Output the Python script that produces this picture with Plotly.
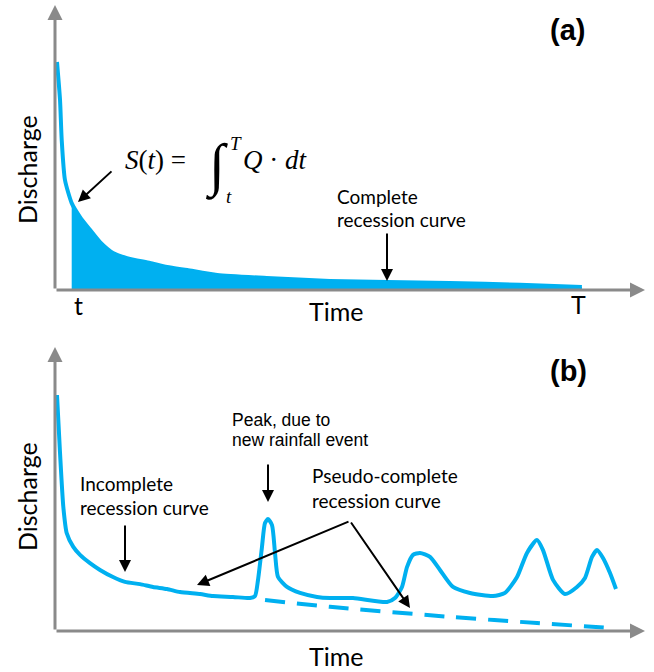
import plotly.graph_objects as go

# ---------------- data ----------------
# Panel (a): complete recession curve (time 0-100, discharge 0-100, arbitrary units)
time_a = [0.34, 0.85, 1.14, 1.69, 2.83, 4.24, 5.93, 7.63, 9.83, 12.2, 16.1, 19.0,
          22.4, 27.5, 35.9, 46.6, 56.3, 66.9, 78.8, 89.3]
discharge_a = [80.0, 66.7, 52.6, 38.6, 30.5, 25.6, 21.1, 16.8, 13.0, 11.2, 9.5, 8.1,
               7.0, 5.3, 4.2, 3.2, 2.8, 2.5, 1.8, 1.05]
storage_start_index = 4          # the point "t" from which S(t) is integrated

# Panel (b): observed hydrograph with new rainfall events
time_b = [0.34, 0.85, 1.41, 1.98, 3.10, 4.24, 5.93, 7.63, 9.83, 11.86, 14.41, 16.61,
          18.98, 21.19, 24.58, 26.78, 30.17, 33.05, 33.90, 34.41, 35.08, 35.59, 36.10,
          36.78, 37.29, 37.80, 39.32, 41.53, 44.41, 46.61, 50.51, 56.27, 57.63, 58.81,
          59.66, 60.68, 61.86, 63.56, 65.25, 67.46, 70.34, 74.24, 76.27, 78.31, 80.0,
          81.69, 82.71, 84.41, 86.44, 88.47, 89.83, 91.02, 91.86, 92.88, 94.07, 95.08]
discharge_b = [83.1, 62.7, 43.7, 34.5, 29.6, 26.8, 23.9, 21.5, 19.0, 17.3, 16.5, 15.5,
               14.8, 13.7, 13.0, 12.3, 12.0, 11.6, 12.3, 18.0, 29.6, 38.0, 39.4,
               37.3, 27.5, 19.0, 15.5, 13.4, 12.0, 11.6, 11.6, 10.2, 11.6, 15.5,
               22.5, 26.8, 27.5, 26.1, 21.5, 15.5, 13.4, 12.3, 13.4, 19.0, 27.5,
               32.0, 28.5, 18.0, 13.0, 15.5, 18.7, 26.1, 28.5, 25.7, 20.4, 14.8]

# Pseudo-complete (extrapolated) recession curve
time_dash = [35.6, 46.6, 67.5, 81.7, 94.1]
discharge_dash = [10.9, 8.5, 4.9, 2.8, 1.1]

tick_labels_a = ["t", "T"]
axis_titles = ["Time", "Discharge"]
panel_labels = ["(a)", "(b)"]

# ---------------- style / layout ----------------
W, H = 654, 672
XL, XR = 55, 645
A_TOP, A_BOT = 5, 290
B_TOP, B_BOT = 347, 631
BLUE = "#00B0F0"
GRAY = "#8A8A8A"
CAL = "Lato, 'Open Sans', sans-serif"
ARIAL = "'Liberation Sans', Arial, sans-serif"
SERIF = "'Liberation Serif', 'DejaVu Serif', serif"


def pa(px, py):
    return (px - XL) / (XR - XL) * 100, (A_BOT - py) / (A_BOT - A_TOP) * 100


def pb(px, py):
    return (px - XL) / (XR - XL) * 100, (B_BOT - py) / (B_BOT - B_TOP) * 100


def pp(px, py):
    return px / W, 1 - py / H


fig = go.Figure()

# filled storage area S(t)
fig.add_trace(go.Scatter(
    x=time_a[storage_start_index:], y=discharge_a[storage_start_index:],
    mode="lines", line=dict(width=0, color=BLUE, shape="spline", smoothing=0.6),
    fill="tozeroy", fillcolor=BLUE, xaxis="x", yaxis="y", hoverinfo="skip"))
fig.add_trace(go.Scatter(
    x=time_a, y=discharge_a, mode="lines",
    line=dict(width=4, color=BLUE, shape="spline", smoothing=0.6),
    xaxis="x", yaxis="y"))

fig.add_trace(go.Scatter(
    x=time_b, y=discharge_b, mode="lines",
    line=dict(width=4, color=BLUE, shape="spline", smoothing=0.6),
    xaxis="x2", yaxis="y2"))
fig.add_trace(go.Scatter(
    x=time_dash, y=discharge_dash, mode="lines",
    line=dict(width=4, color=BLUE, dash="20px,12px", shape="spline", smoothing=0.6),
    xaxis="x2", yaxis="y2"))

ann = []


def arrow_data(tip, tail, xr, yr, color="black", width=2, head=2, size=1.2):
    ann.append(dict(x=tip[0], y=tip[1], ax=tail[0], ay=tail[1], xref=xr, yref=yr,
                    axref=xr, ayref=yr, text="", showarrow=True, arrowhead=head,
                    arrowsize=size, arrowwidth=width, arrowcolor=color,
                    standoff=0, startstandoff=0))


def label(text, px, py, size, family=CAL, xanchor="center", yanchor="middle",
          angle=0, color="black"):
    x, y = pp(px, py)
    ann.append(dict(x=x, y=y, xref="paper", yref="paper", text=text, showarrow=False,
                    xanchor=xanchor, yanchor=yanchor, textangle=angle,
                    font=dict(family=family, size=size, color=color)))


# axes with arrows
for xr, yr in (("x", "y"), ("x2", "y2")):
    arrow_data((100, 0), (0, 0), xr, yr, color=GRAY, width=3, head=2, size=1.0)
    arrow_data((0, 100), (0, 0), xr, yr, color=GRAY, width=3, head=2, size=1.0)

# ---- panel (a) texts ----
label(axis_titles[1], 27, 170, 25, angle=-90)
label(axis_titles[0], 336, 311, 25)
label(tick_labels_a[0], 78, 305, 25)
label(tick_labels_a[1], 578, 304, 25)
label("<b>" + panel_labels[0] + "</b>", 567, 30, 29, family=ARIAL)

label("<i>S</i>(<i>t</i>) =", 123, 160, 27, family=SERIF, xanchor="left")
label("<i>\u222b</i>", 216, 166, 58, family=SERIF)
label("<i>T</i>", 236, 143, 19, family=SERIF)
label("<i>t</i>", 229, 196, 19, family=SERIF)
label("<i>Q</i> \u00b7 <i>dt</i>", 241, 160, 27, family=SERIF, xanchor="left")
arrow_data(pa(78, 202), pa(113, 170), "x", "y")

label("Complete", 335, 197, 19, xanchor="left")
label("recession curve", 335, 219, 19, xanchor="left")
arrow_data(pa(387, 281), pa(387, 232), "x", "y")

# ---- panel (b) texts ----
label(axis_titles[1], 27, 497, 25, angle=-90)
label(axis_titles[0], 336, 656, 25)
label("<b>" + panel_labels[1] + "</b>", 568, 371, 29, family=ARIAL)

label("Peak, due to", 230, 420, 17.5, family=ARIAL, xanchor="left")
label("new rainfall event", 230, 440, 17.5, family=ARIAL, xanchor="left")
arrow_data(pb(268, 502), pb(268, 463), "x2", "y2")

label("Incomplete", 78, 483, 19, xanchor="left")
label("recession curve", 78, 507, 19, xanchor="left")
arrow_data(pb(125, 572), pb(125, 524), "x2", "y2")

label("Pseudo-complete", 310, 475, 19, xanchor="left")
label("recession curve", 310, 500, 19, xanchor="left")
arrow_data(pb(197, 585), pb(350, 521), "x2", "y2")
arrow_data(pb(410, 608), pb(350, 521), "x2", "y2")

axis_common = dict(visible=False, range=[0, 100], fixedrange=True)
fig.update_layout(
    width=W, height=H,
    margin=dict(l=0, r=0, t=0, b=0),
    paper_bgcolor="white", plot_bgcolor="white",
    showlegend=False,
    xaxis=dict(domain=[XL / W, XR / W], anchor="y", **axis_common),
    yaxis=dict(domain=[1 - A_BOT / H, 1 - A_TOP / H], anchor="x", **axis_common),
    xaxis2=dict(domain=[XL / W, XR / W], anchor="y2", **axis_common),
    yaxis2=dict(domain=[1 - B_BOT / H, 1 - B_TOP / H], anchor="x2", **axis_common),
    annotations=ann,
)

fig.write_html(
    "out.html",
    config={"displayModeBar": False},
    post_script="document.body.style.margin='0px';document.body.style.overflow='hidden';",
)
